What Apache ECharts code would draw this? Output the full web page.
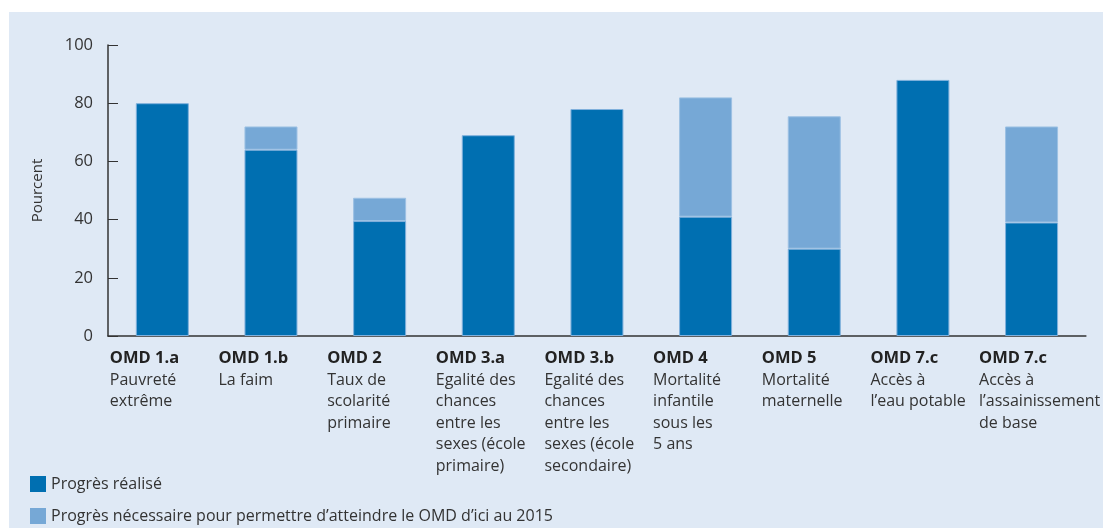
<!DOCTYPE html>
<html>
<head>
<meta charset="utf-8">
<script src="https://cdn.jsdelivr.net/npm/echarts@6/dist/echarts.min.js"></script>
<style>
  html, body { margin: 0; padding: 0; background: #fff; }
  #chart { width: 1103px; height: 528px; }
</style>
</head>
<body>
<div id="chart"></div>
<script>
// categories: code + description lines
const goalCodes = ['OMD 1.a', 'OMD 1.b', 'OMD 2', 'OMD 3.a', 'OMD 3.b', 'OMD 4', 'OMD 5', 'OMD 7.c', 'OMD 7.c']
const goalNames = [
  ['Pauvreté', 'extrême'],
  ['La faim'],
  ['Taux de', 'scolarité', 'primaire'],
  ['Egalité des', 'chances', 'entre les', 'sexes (école', 'primaire)'],
  ['Egalité des', 'chances', 'entre les', 'sexes (école', 'secondaire)'],
  ['Mortalité', 'infantile', 'sous les', '5 ans'],
  ['Mortalité', 'maternelle'],
  ['Accès à', 'l\u2019eau potable'],
  ['Accès à', 'l\u2019assainissement', 'de base']
]
// values (percent)
const achieved = [80, 64, 39.5, 69, 78, 41, 30, 88, 39]
const needed = [null, 8, 8, null, null, 41, 45.5, null, 33]
const yTicks = [0, 20, 40, 60, 80, 100]

const seriesNames = ['Progrès réalisé', 'Progrès nécessaire pour permettre d\u2019atteindre le OMD d\u2019ici au 2015']

const darkBlue = '#006fb1'
const lightBlue = '#76a8d6'
const txt = '#333333'
const font = 'Open Sans'

const categories = goalCodes.map((c, i) => c + '\n' + goalNames[i].join('\n'))

const chart = echarts.init(document.getElementById('chart'))
chart.setOption({
  backgroundColor: '#ffffff',
  animation: false,
  textStyle: { fontFamily: font },
  graphic: [{
    type: 'rect',
    z: -10,
    silent: true,
    shape: { x: 9, y: 12, width: 1094, height: 516 },
    style: { fill: '#dfe9f5' }
  }],
  legend: {
    orient: 'vertical',
    left: 30,
    top: 476,
    padding: 0,
    itemWidth: 16,
    itemHeight: 16,
    itemGap: 16,
    icon: 'rect',
    itemStyle: { borderWidth: 0 },
    textStyle: { fontSize: 16, color: txt, fontFamily: font },
    data: seriesNames
  },
  grid: { left: 108, right: 12, top: 45, bottom: 192 },
  xAxis: {
    type: 'category',
    data: categories,
    axisLine: { lineStyle: { color: '#333', width: 1.5 } },
    axisTick: { inside: true, length: 10, lineStyle: { color: '#333' } },
    axisLabel: {
      interval: 0,
      margin: 12,
      color: txt,
      fontSize: 16,
      lineHeight: 21.5,
      formatter: (v) => {
        const lines = v.split('\n')
        return lines.map((l, i) => (i === 0 ? '{b|' : '{n|') + l + '}').join('\n')
      },
      rich: {
        b: { fontWeight: 'bold', fontSize: 16.5, width: 105, align: 'left', color: '#222', lineHeight: 21.5, fontFamily: font },
        n: { fontSize: 16, width: 105, align: 'left', color: txt, lineHeight: 21.5, fontFamily: font }
      }
    }
  },
  yAxis: {
    type: 'value',
    min: yTicks[0],
    max: yTicks[yTicks.length - 1],
    interval: 20,
    name: 'Pourcent',
    nameLocation: 'middle',
    nameGap: 63,
    nameRotate: 90,
    nameTextStyle: { fontSize: 15, color: txt, fontFamily: font },
    axisLine: { show: true, lineStyle: { color: '#333', width: 1.5 } },
    axisTick: { show: true, inside: true, length: 10, lineStyle: { color: '#333' } },
    splitLine: { show: false },
    axisLabel: { fontSize: 16.5, color: txt, margin: 15 }
  },
  series: [
    {
      name: seriesNames[0],
      type: 'bar',
      stack: 'omd',
      barWidth: 53,
      data: achieved,
      itemStyle: { color: darkBlue, borderColor: '#7fb0dc', borderWidth: 1 }
    },
    {
      name: seriesNames[1],
      type: 'bar',
      stack: 'omd',
      barWidth: 53,
      data: needed,
      itemStyle: { color: lightBlue, borderColor: '#9cc0e3', borderWidth: 1 }
    }
  ]
})
</script>
</body>
</html>
